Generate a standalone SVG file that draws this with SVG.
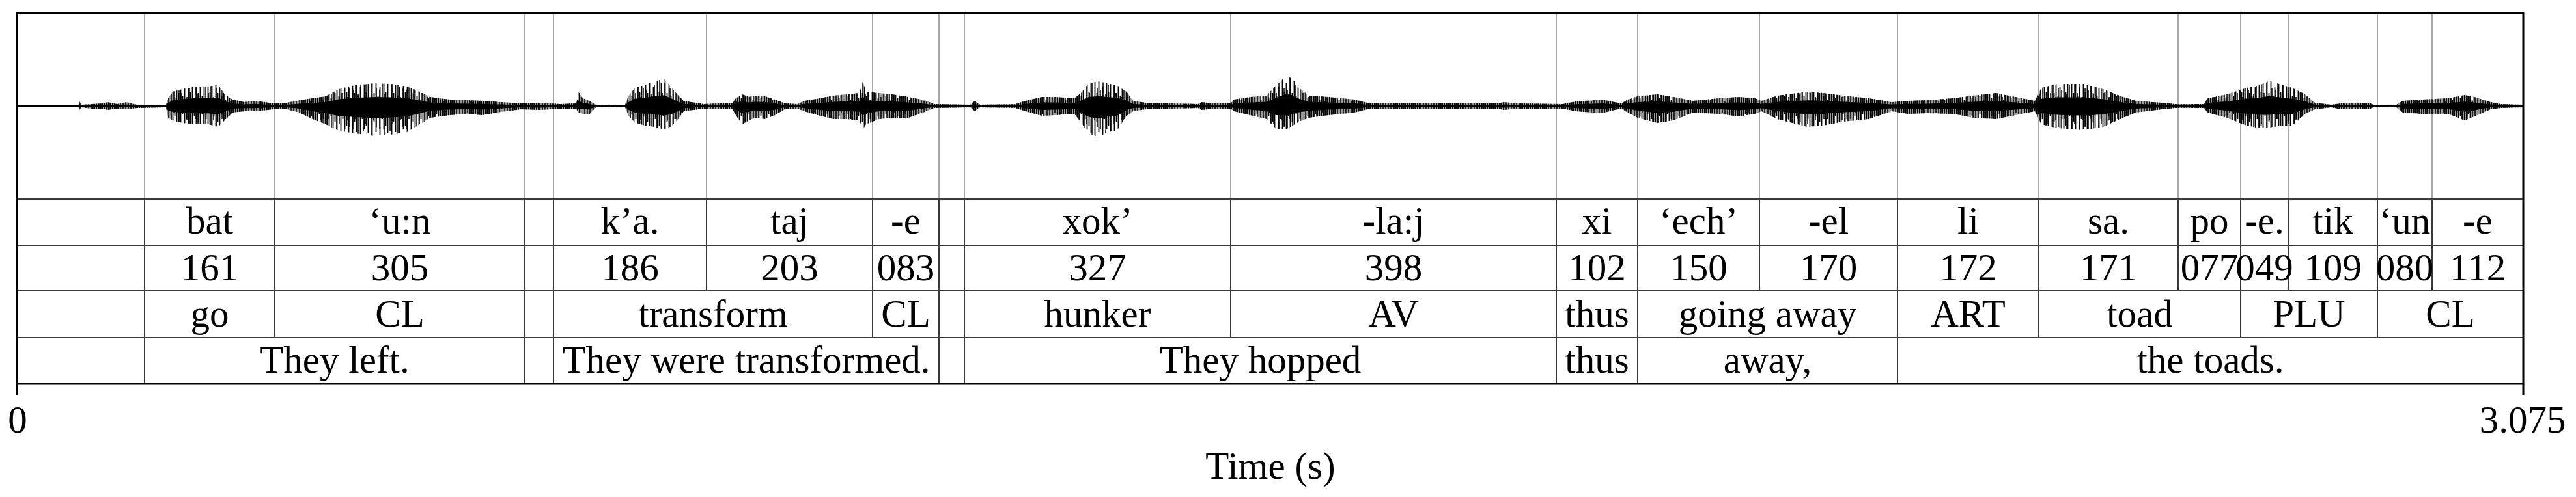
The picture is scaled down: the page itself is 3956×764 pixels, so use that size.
<svg xmlns="http://www.w3.org/2000/svg" xmlns:xlink="http://www.w3.org/1999/xlink" width="3956" height="764" viewBox="0 0 3956 764">
<style>
.t{font-family:"Liberation Serif","Times New Roman",serif;font-size:59px;fill:#000;text-anchor:middle}
.grid{stroke:#a8a8a8;stroke-width:2;fill:none}
.tab{stroke:#3a3a3a;stroke-width:2;fill:none}
.frame{stroke:#000;stroke-width:3;fill:none}
</style>
<defs>
<pattern id="pA" patternUnits="userSpaceOnUse" x="0" y="113" width="30" height="100">
<path d="M1.5 2V98M4.5 30V75M7.5 12V90M10.5 35V62M13.5 20V95M16.5 40V70M19.5 8V85M22.5 28V80M25.5 15V92M28.5 38V66" stroke="#000" stroke-width="1.8"/>
</pattern>
<pattern id="pB" patternUnits="userSpaceOnUse" x="7" y="113" width="41" height="100">
<path d="M2 25V85M6 5V70M10 32V96M14 18V60M18 42V88M22 10V78M26 30V55M30 14V94M34 36V72M38 22V82" stroke="#000" stroke-width="1.5"/>
</pattern>
<path id="env" d="M26,162 L120,162 122,156 125,161 140,160 160,159 165,157 180,160 194,157 210,161 255,161 258,151 265,141 280,137 300,133 320,133 335,130 345,145 357,153 375,157 393,155 420,159 440,158 460,154 480,151 500,148 520,137 545,131 575,128 600,129 625,133 645,141 660,149 690,153 720,154 740,155 770,157 800,159 830,158 860,160 885,159 888,141 895,151 905,155 915,161 960,161 965,148 975,135 990,131 1005,125 1020,121 1030,133 1040,145 1050,155 1080,160 1100,159 1125,158 1130,151 1140,145 1150,149 1160,147 1175,148 1190,153 1205,159 1225,160 1235,155 1260,151 1280,147 1300,145 1320,143 1325,125 1330,141 1350,143 1370,145 1395,149 1420,154 1435,160 1490,161 1497,155 1505,161 1560,160 1575,155 1600,149 1620,149 1650,151 1660,143 1672,128 1688,125 1700,128 1715,131 1730,141 1740,155 1760,158 1800,159 1840,160 1845,157 1865,159 1890,159 1895,153 1920,149 1945,147 1960,131 1975,117 1985,121 1995,135 2010,147 2040,149 2080,153 2100,158 2200,159 2300,159 2310,157 2330,159 2400,160 2420,156 2460,153 2480,157 2490,159 2500,153 2515,148 2545,145 2570,149 2600,155 2640,151 2670,149 2695,151 2705,155 2730,147 2775,141 2800,143 2830,147 2870,151 2905,157 2930,155 2960,154 3000,151 3030,147 3065,143 3095,149 3125,155 3135,135 3160,129 3200,129 3230,137 3260,149 3280,155 3320,158 3340,160 3385,160 3390,151 3420,145 3450,135 3470,131 3485,124 3500,129 3520,135 3540,145 3555,158 3580,161 3595,159 3640,159 3645,161 3680,161 3690,155 3720,153 3760,151 3785,146 3800,149 3825,157 3840,160 3875,161 L3875,165 3840,166 3825,168 3800,179 3785,185 3760,175 3720,175 3690,173 3680,165 3645,165 3640,167 3595,168 3580,165 3555,168 3540,175 3520,193 3500,193 3485,197 3470,197 3450,193 3420,181 3390,173 3385,166 3340,166 3320,168 3280,173 3260,181 3230,195 3200,200 3160,197 3135,191 3125,171 3095,177 3065,183 3030,181 3000,175 2960,174 2930,175 2905,171 2870,183 2830,187 2800,193 2775,195 2730,183 2705,171 2695,175 2670,179 2640,175 2600,173 2570,185 2545,189 2515,181 2500,173 2490,167 2480,169 2460,174 2420,171 2400,167 2330,167 2310,169 2300,167 2200,167 2100,168 2080,173 2040,177 2010,181 1995,187 1985,193 1975,199 1960,198 1945,183 1920,177 1895,171 1890,167 1865,167 1845,169 1840,166 1800,167 1760,168 1740,171 1730,178 1715,201 1700,203 1688,211 1672,205 1660,188 1650,175 1620,177 1600,178 1575,171 1560,166 1505,165 1497,171 1490,165 1435,166 1420,172 1395,181 1370,181 1350,183 1330,191 1325,199 1320,185 1300,183 1280,183 1260,178 1235,171 1225,167 1205,168 1190,177 1175,183 1160,181 1150,185 1140,191 1130,177 1125,168 1100,167 1080,167 1050,171 1040,185 1030,195 1020,199 1005,195 990,193 975,188 965,178 960,165 915,165 905,176 895,175 888,173 885,167 860,167 830,169 800,168 770,172 740,177 720,175 690,177 660,181 645,191 625,203 600,207 575,209 545,205 520,201 500,191 480,183 460,173 440,168 420,168 393,171 375,171 357,173 345,185 335,195 320,191 300,191 280,189 265,185 258,181 255,165 210,166 194,168 180,167 165,169 160,167 140,167 125,165 122,169 120,164 26,164 Z"/>
</defs>
<rect x="0" y="0" width="3956" height="764" fill="#fff"/>
<g id="grid" class="grid">
<path d="M222,20V306M422,20V306M806,20V306M850,20V306M1085,20V306M1340,20V306M1442,20V306M1481,20V306M1890,20V306M2390,20V306M2515,20V306M2702,20V306M2914,20V306M3131,20V306M3345,20V306M3441,20V306M3514,20V306M3651,20V306M3735,20V306"/>
</g>
<g id="waveform">
<line x1="26" y1="163" x2="3875" y2="163" stroke="#000" stroke-width="2.5"/>
<use xlink:href="#env" href="#env" fill="url(#pA)"/>
<use xlink:href="#env" href="#env" fill="url(#pB)"/>
<use xlink:href="#env" href="#env" fill="#000" transform="matrix(1 0 0 0.4 0 97.8)"/>
</g>
<g id="table" class="tab">
<path d="M26,306H3875M26,377H3875M26,447H3875M26,519H3875"/>
<path d="M222,306V447M422,306V447M806,306V447M850,306V447M1085,306V447M1340,306V447M1442,306V447M1481,306V447M1890,306V447M2390,306V447M2515,306V447M2702,306V447M2914,306V447M3131,306V447M3345,306V447M3441,306V447M3514,306V447M3651,306V447M3735,306V447"/>
<path d="M222,447V519M422,447V519M806,447V519M850,447V519M1340,447V519M1442,447V519M1481,447V519M1890,447V519M2390,447V519M2515,447V519M2914,447V519M3131,447V519M3441,447V519M3651,447V519"/>
<path d="M222,519V590M806,519V590M850,519V590M1442,519V590M1481,519V590M2390,519V590M2515,519V590M2914,519V590"/>
</g>
<g id="row-syllables">
<text class="t" x="322" y="359">bat</text>
<text class="t" x="614" y="359">‘u:n</text>
<text class="t" x="967.5" y="359">k’a.</text>
<text class="t" x="1212.5" y="359">taj</text>
<text class="t" x="1391" y="359">-e</text>
<text class="t" x="1685.5" y="359">xok’</text>
<text class="t" x="2140" y="359">-la:j</text>
<text class="t" x="2452.5" y="359">xi</text>
<text class="t" x="2608.5" y="359">‘ech’</text>
<text class="t" x="2808" y="359">-el</text>
<text class="t" x="3022.5" y="359">li</text>
<text class="t" x="3238" y="359">sa.</text>
<text class="t" x="3393" y="359">po</text>
<text class="t" x="3477.5" y="359">-e.</text>
<text class="t" x="3582.5" y="359">tik</text>
<text class="t" x="3693" y="359">‘un</text>
<text class="t" x="3805" y="359">-e</text>
</g>
<g id="row-durations">
<text class="t" x="322" y="431">161</text>
<text class="t" x="614" y="431">305</text>
<text class="t" x="967.5" y="431">186</text>
<text class="t" x="1212.5" y="431">203</text>
<text class="t" x="1391" y="431">083</text>
<text class="t" x="1685.5" y="431">327</text>
<text class="t" x="2140" y="431">398</text>
<text class="t" x="2452.5" y="431">102</text>
<text class="t" x="2608.5" y="431">150</text>
<text class="t" x="2808" y="431">170</text>
<text class="t" x="3022.5" y="431">172</text>
<text class="t" x="3238" y="431">171</text>
<text class="t" x="3393" y="431">077</text>
<text class="t" x="3477.5" y="431">049</text>
<text class="t" x="3582.5" y="431">109</text>
<text class="t" x="3693" y="431">080</text>
<text class="t" x="3805" y="431">112</text>
</g>
<g id="row-gloss">
<text class="t" x="322" y="502">go</text>
<text class="t" x="614" y="502">CL</text>
<text class="t" x="1095" y="502">transform</text>
<text class="t" x="1391" y="502">CL</text>
<text class="t" x="1685.5" y="502">hunker</text>
<text class="t" x="2140" y="502">AV</text>
<text class="t" x="2452.5" y="502">thus</text>
<text class="t" x="2714.5" y="502">going away</text>
<text class="t" x="3022.5" y="502">ART</text>
<text class="t" x="3286" y="502">toad</text>
<text class="t" x="3546" y="502">PLU</text>
<text class="t" x="3763" y="502">CL</text>
</g>
<g id="row-translation">
<text class="t" x="514" y="573">They left.</text>
<text class="t" x="1146" y="573">They were transformed.</text>
<text class="t" x="1935.5" y="573">They hopped</text>
<text class="t" x="2452.5" y="573">thus</text>
<text class="t" x="2714.5" y="573">away,</text>
<text class="t" x="3394.5" y="573">the toads.</text>
</g>
<g id="frame">
<rect class="frame" x="26" y="20.5" width="3849" height="569.5"/>
<path class="frame" d="M26,590V607M3875,590V607"/>
</g>
<g id="axis">
<text class="t" x="27" y="665">0</text>
<text class="t" x="3874" y="665">3.075</text>
<text class="t" x="1951" y="736">Time (s)</text>
</g>
</svg>
